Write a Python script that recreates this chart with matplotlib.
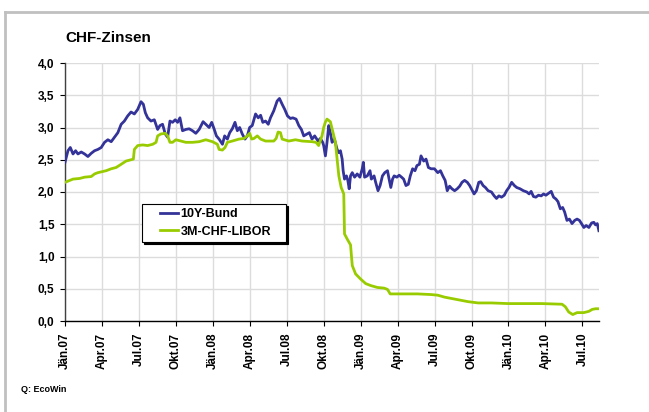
import matplotlib
matplotlib.use("Agg")
import matplotlib.pyplot as plt
from matplotlib.patches import Rectangle
from matplotlib.lines import Line2D

plt.rcParams['font.family'] = ['Liberation Sans', 'DejaVu Sans']
plt.rcParams['font.weight'] = 'bold'

# x positions are months since Jan 2007 (0 = Jän.07)
bund_month = [
    0.00, 0.24, 0.43, 0.65, 0.86, 1.05, 1.32, 1.59, 1.86, 2.13, 2.40, 2.67, 2.94,
    3.21, 3.48, 3.75, 4.02, 4.29, 4.56, 4.82, 5.09, 5.36, 5.63, 5.90, 6.17, 6.36,
    6.52, 6.71, 6.98, 7.25, 7.52, 7.71, 7.92, 8.14, 8.33, 8.52, 8.73, 8.95, 9.14,
    9.33, 9.54, 9.81, 10.08, 10.35, 10.62, 10.89, 11.21, 11.43, 11.70, 11.91,
    12.10, 12.29, 12.51, 12.78, 12.96, 13.18, 13.37, 13.58, 13.80, 13.99, 14.18,
    14.39, 14.61, 14.80, 14.99, 15.20, 15.47, 15.69, 15.88, 16.06, 16.28, 16.50,
    16.68, 16.95, 17.22, 17.41, 17.63, 17.84, 18.06, 18.30, 18.49, 18.76, 18.98,
    19.19, 19.38, 19.65, 19.84, 20.05, 20.27, 20.54, 20.73, 20.92,
    21.00, 21.14, 21.27, 21.41, 21.54, 21.68, 21.87, 22.09, 22.23, 22.36, 22.50,
    22.58, 22.69, 22.85, 22.96, 23.07, 23.18, 23.32, 23.51, 23.72, 23.94, 24.13,
    24.22, 24.32, 24.54, 24.76, 24.87, 25.09, 25.22, 25.41, 25.58, 25.77, 25.96,
    26.18, 26.31, 26.45, 26.59, 26.72, 26.94, 27.13, 27.32, 27.49, 27.68, 27.87,
    28.03, 28.22, 28.41, 28.57, 28.77, 28.90, 29.12, 29.31, 29.50, 29.72, 29.99,
    30.26, 30.48, 30.67, 30.86, 31.03, 31.22, 31.41, 31.63, 31.84, 32.04, 32.23,
    32.44, 32.66, 32.85, 32.99, 33.21, 33.40, 33.59, 33.75, 33.94, 34.13, 34.35,
    34.62, 34.84, 35.03, 35.22, 35.44, 35.66, 35.85, 36.04, 36.26, 36.48, 36.67,
    36.94, 37.21, 37.49, 37.68, 37.84, 38.03, 38.22, 38.44, 38.66, 38.85, 39.04,
    39.26, 39.47, 39.66, 39.86, 40.02, 40.21, 40.40, 40.56, 40.75, 40.95, 41.16,
    41.38, 41.57, 41.76, 41.93, 42.12, 42.31, 42.53, 42.75, 42.93, 43.07, 43.21,
    43.34,
]
bund_value = [
    2.46, 2.64, 2.69, 2.59, 2.64, 2.59, 2.62, 2.59, 2.55, 2.60, 2.64, 2.66, 2.69,
    2.77, 2.81, 2.78, 2.85, 2.92, 3.05, 3.10, 3.18, 3.24, 3.21, 3.28, 3.40, 3.36,
    3.23, 3.15, 3.10, 3.12, 2.97, 3.03, 3.05, 2.90, 2.85, 3.10, 3.08, 3.12, 3.08,
    3.15, 2.95, 2.97, 2.98, 2.95, 2.91, 2.97, 3.09, 3.05, 3.00, 3.08,
    2.98, 2.87, 2.82, 2.74, 2.87, 2.82, 2.92, 2.98, 3.08, 2.95, 3.00,
    2.90, 2.82, 2.87, 3.00, 3.03, 3.21, 3.15, 3.19, 3.08, 3.10, 3.05,
    3.15, 3.26, 3.41, 3.45, 3.36, 3.28, 3.18, 3.14, 3.15, 3.13, 3.03,
    2.97, 2.87, 2.90, 2.92, 2.82, 2.87, 2.79, 2.83, 2.77,
    2.72, 2.56, 2.77, 3.03, 2.92, 2.77, 2.82, 2.66, 2.61, 2.64, 2.51,
    2.33, 2.20, 2.25, 2.18, 2.05, 2.25, 2.30, 2.23, 2.28, 2.23, 2.36,
    2.46, 2.23, 2.25, 2.33, 2.20, 2.25, 2.15, 2.02, 2.10, 2.25, 2.30,
    2.33, 2.20, 2.07, 2.20, 2.25, 2.23, 2.26, 2.23, 2.20, 2.10, 2.12,
    2.25, 2.36, 2.33, 2.41, 2.43, 2.56, 2.48, 2.51, 2.38, 2.36, 2.36,
    2.30, 2.33, 2.25, 2.18, 2.02, 2.09, 2.05, 2.02, 2.05, 2.09, 2.15,
    2.18, 2.15, 2.10, 2.05, 1.97, 2.02, 2.15, 2.16, 2.10, 2.07, 2.02,
    2.00, 1.94, 1.90, 1.94, 1.92, 1.95, 2.02, 2.07, 2.15, 2.10, 2.07,
    2.05, 2.02, 2.00, 1.97, 2.01, 1.93, 1.92, 1.95, 1.94, 1.97, 1.95,
    1.98, 2.01, 1.92, 1.89, 1.85, 1.74, 1.76, 1.69, 1.56, 1.58, 1.51,
    1.56, 1.58, 1.56, 1.51, 1.45, 1.48, 1.45, 1.52, 1.53, 1.49, 1.51,
    1.40,
]

libor_month = [
    0.00, 0.65, 1.19, 1.59, 2.13, 2.40, 2.67, 3.34, 3.75, 4.15, 4.56, 4.96, 5.36,
    5.55, 5.63, 5.90, 6.31, 6.71, 7.12, 7.39, 7.52, 7.79, 8.14, 8.33, 8.52, 8.73,
    9.00, 9.41, 9.81, 10.35, 10.89, 11.43, 11.97, 12.37, 12.51, 12.78, 12.99,
    13.18, 13.58, 14.12, 14.53, 14.80, 14.99, 15.15, 15.34, 15.61, 15.88, 16.28,
    16.95, 17.14, 17.30, 17.49, 17.63, 18.17, 18.71, 19.25, 20.05, 20.38, 20.59,
    20.86, 21.00, 21.13, 21.27, 21.54, 21.76, 21.95, 22.09, 22.23, 22.42, 22.63,
    22.69, 22.91, 23.18, 23.32, 23.59, 24.00, 24.41, 24.81, 25.36, 25.90, 26.18,
    26.40, 27.54, 28.63, 29.72, 30.26, 30.81, 31.90, 32.72, 33.53, 34.62, 35.99,
    37.35, 38.71, 40.35, 40.62, 40.89, 41.22, 41.57, 42.12, 42.53, 42.80, 43.07,
    43.34,
]
libor_value = [
    2.15, 2.20, 2.21, 2.23, 2.24, 2.28, 2.30, 2.33, 2.36, 2.38, 2.43, 2.48, 2.50,
    2.51, 2.66, 2.72, 2.73, 2.72, 2.74, 2.77, 2.87, 2.90, 2.91, 2.87, 2.77, 2.77,
    2.81, 2.79, 2.77, 2.77, 2.78, 2.81, 2.78, 2.74, 2.66, 2.65, 2.69,
    2.77, 2.79, 2.82, 2.83, 2.87, 2.91, 2.82, 2.83, 2.87, 2.82, 2.79,
    2.79, 2.83, 2.93, 2.92, 2.82, 2.79, 2.81, 2.79, 2.78, 2.77, 2.72,
    2.87, 3.00, 3.08, 3.13, 3.09, 2.92, 2.77, 2.51, 2.25, 2.07, 1.97,
    1.35, 1.27, 1.18, 0.86, 0.73, 0.65, 0.58, 0.55, 0.52, 0.51, 0.49,
    0.42, 0.42, 0.42, 0.41, 0.40, 0.37, 0.33, 0.30, 0.28, 0.28, 0.27,
    0.27, 0.27, 0.26, 0.22, 0.14, 0.10, 0.13, 0.13, 0.15, 0.18, 0.19,
    0.19,
]

tick_months = list(range(0, 43, 3))
tick_labels = ["Jän.07", "Apr.07", "Jul.07", "Okt.07", "Jän.08", "Apr.08", "Jul.08",
               "Okt.08", "Jän.09", "Apr.09", "Jul.09", "Okt.09", "Jän.10", "Apr.10",
               "Jul.10"]
y_ticks = [0.0, 0.5, 1.0, 1.5, 2.0, 2.5, 3.0, 3.5, 4.0]

BLUE = "#333399"
GREEN = "#99cc00"
W, H = 649, 412

fig = plt.figure(figsize=(W / 100, H / 100), dpi=100)
ax = fig.add_axes([65 / W, 1 - 321 / H, 534 / W, 258 / H])

ax.plot(bund_month, bund_value, color=BLUE, lw=2.0, label="10Y-Bund", zorder=3)
ax.plot(libor_month, libor_value, color=GREEN, lw=2.0, label="3M-CHF-LIBOR", zorder=3)

ax.set_xlim(0, 43.35)
ax.set_ylim(0, 4.0)
ax.set_xticks(tick_months)
ax.set_xticklabels(tick_labels, rotation=90, fontsize=8.5, fontweight='bold')
ax.set_yticks(y_ticks)
ax.set_yticklabels([f"{v:.1f}".replace(".", ",") for v in y_ticks], fontsize=8.5,
                   fontweight='bold')
ax.tick_params(axis='both', direction='out', length=3.5, width=0.8, color='black')
ax.tick_params(axis='y', pad=4)
ax.tick_params(axis='x', pad=5)
ax.grid(True, color='#dcdcdc', lw=1.0)
ax.set_axisbelow(True)
for s in ['top', 'right']:
    ax.spines[s].set_visible(False)
for s in ['left', 'bottom']:
    ax.spines[s].set_linewidth(1.0)
ax.spines['left'].set_color('#404040')

# legend box with shadow (Excel style)
def ax_xy(px, py):
    return (px - 65) / 534, (321 - py) / 258

x0, y1 = ax_xy(142, 204)
x1, y0 = ax_xy(286, 242)
sx, sy = 2 / 534, 2 / 258
ax.add_patch(Rectangle((x0 + sx, y0 - sy), x1 - x0, y1 - y0, transform=ax.transAxes,
                       facecolor='black', edgecolor='black', lw=0.8, zorder=4))
ax.add_patch(Rectangle((x0, y0), x1 - x0, y1 - y0, transform=ax.transAxes,
                       facecolor='white', edgecolor='black', lw=0.8, zorder=5))
lx, ly = ax_xy(160, 208)
leg = ax.legend(loc='upper left', bbox_to_anchor=(lx, ly), frameon=False,
                borderpad=0, borderaxespad=0, handlelength=1.45, handletextpad=0.2,
                labelspacing=0.45, prop={'size': 9, 'weight': 'bold'})
leg.set_zorder(6)

fig.text(65 / W, 1 - 38 / H, "CHF-Zinsen", fontsize=11, fontweight='bold',
         ha='left', va='center')
fig.text(21 / W, 1 - 390 / H, "Q: EcoWin", fontsize=6.5, fontweight='bold',
         ha='left', va='center')

# outer gray frame
fig.add_artist(Line2D([5 / W, 1], [1 - 12 / H, 1 - 12 / H], color='#c0c0c0', lw=2,
                      transform=fig.transFigure))
fig.add_artist(Line2D([5 / W, 5 / W], [0, 1 - 12 / H], color='#c0c0c0', lw=2,
                      transform=fig.transFigure))

fig.savefig("out.png", dpi=100)
